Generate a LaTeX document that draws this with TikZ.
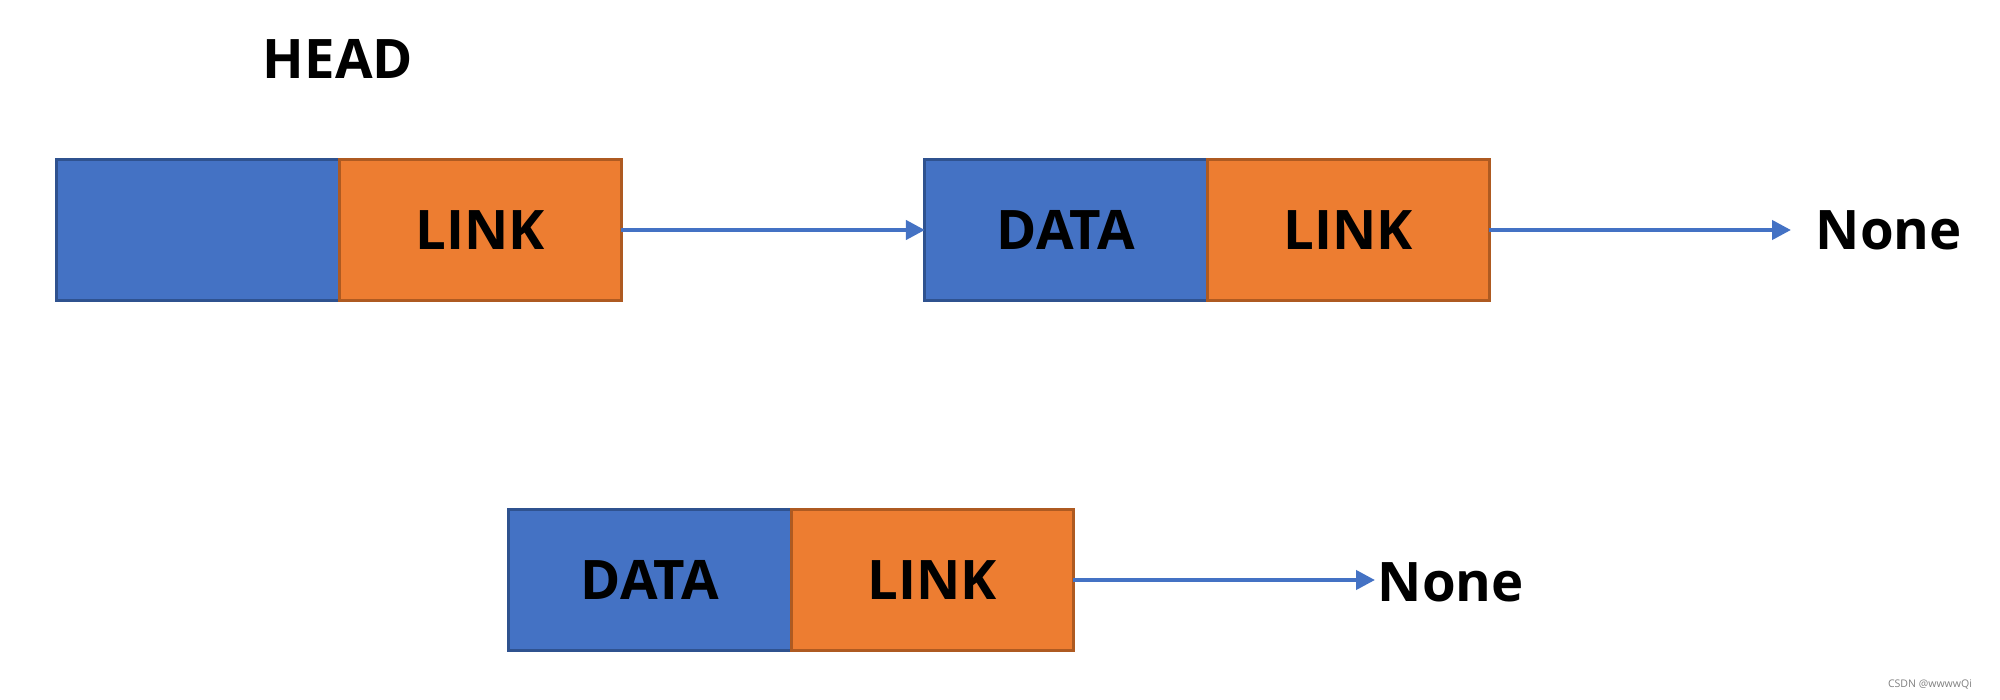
\documentclass[tikz,border=0pt]{standalone}
\usepackage{fontspec}
\setmainfont{Open Sans}
\usetikzlibrary{arrows.meta,positioning}

\definecolor{datablue}{HTML}{4472C4}
\definecolor{dataedge}{HTML}{2F528F}
\definecolor{linkorange}{HTML}{ED7D31}
\definecolor{linkedge}{HTML}{AE5A21}

\begin{document}
\begin{tikzpicture}[x=0.01cm,y=-0.01cm,
    bigtext/.style={font=\bfseries\fontsize{15.5}{18}\selectfont},
    cell/.style={bigtext,minimum width=2.82cm,minimum height=1.4cm,inner sep=0pt,outer sep=0pt,line width=0.3mm},
    datacell/.style={cell,fill=datablue,draw=dataedge},
    linkcell/.style={cell,fill=linkorange,draw=linkedge},
    ptr/.style={draw=datablue,line width=0.42mm,-{Triangle[length=1.9mm,width=1.9mm]}}]
       \useasboundingbox (0,0) rectangle (2000,700);
       % Draw head node
       \node[bigtext] (head) at (338,59) {HEAD};
       \node[datacell] (h_data) at (198,230) {};
       \node[linkcell,right=0pt of h_data] (h_link) {LINK};
       % Draw first list node
       \node[datacell] (d_1) at (1066,230) {DATA};
       \node[linkcell,right=0pt of d_1] (l_1) {LINK};
       \node[bigtext,anchor=west,inner sep=2.4mm] (none_1) at (1791,230) {None};
       % Draw second list node
       \node[datacell] (d_2) at (650,580) {DATA};
       \node[linkcell,right=0pt of d_2] (l_2) {LINK};
       \node[bigtext,anchor=west,inner sep=0.2mm] (none_2) at (1375,582) {None};
       % Draw pointers
       \draw[ptr] (h_link.east) -- (d_1.west);
       \draw[ptr] (l_1.east) -- (none_1.west);
       \draw[ptr] (l_2.east) -- (l_2.east -| none_2.west);
       % Watermark
       \node[font=\fontsize{3}{4}\selectfont,text=gray] (mark) at (1930,685) {CSDN @wwwwQi};
\end{tikzpicture}
\end{document}
